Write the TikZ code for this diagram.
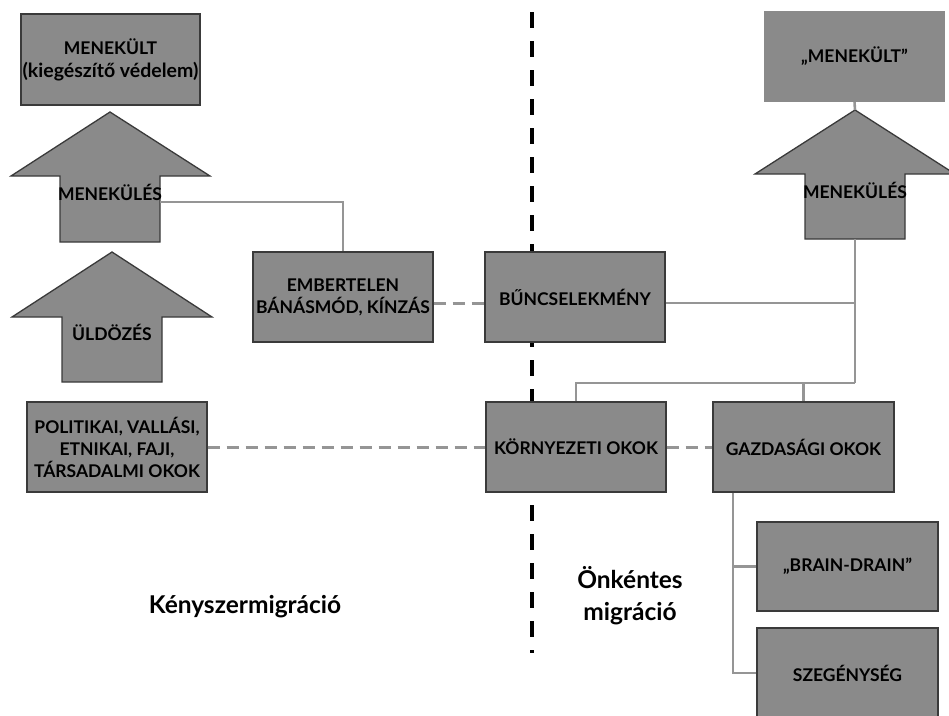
\documentclass[tikz,border=0pt]{standalone}
\usepackage{fontspec}
\setmainfont{Lato}
\definecolor{boxc}{HTML}{8A8A8A}
\definecolor{bordc}{HTML}{3A3A3A}
\definecolor{linec}{HTML}{959595}
\begin{document}
\begin{tikzpicture}[x=1pt,y=-1pt,
 box/.style={draw=bordc, fill=boxc, line width=1.3pt, inner sep=0pt, align=center, font=\bfseries\fontsize{17.5}{22}\selectfont},
 plainbox/.style={fill=boxc, inner sep=0pt, align=center, font=\bfseries\fontsize{17.5}{22}\selectfont},
 arrowtxt/.style={inner sep=0pt, font=\bfseries\fontsize{17.5}{22}\selectfont},
 bigarrow/.style={draw=bordc, fill=boxc, line width=1.3pt},
 link/.style={draw=linec, line width=2.6pt},
 dlink/.style={draw=linec, line width=3pt, dash pattern=on 12pt off 7pt},
 divider/.style={draw=black, line width=4pt, dash pattern=on 16pt off 13pt},
 region/.style={inner sep=0pt, align=center, font=\bfseries\fontsize{24.5}{32}\selectfont}]
\useasboundingbox (0,0) rectangle (949,715);
\begin{scope}
\clip (0,0) rectangle (949,715);
% divider
\coordinate (dtop) at (532,12);
\coordinate (dbot) at (532,653);
\draw[divider] (dtop) -- (dbot);

% left arrows
\draw[bigarrow] (110,112) -- (210,176) -- (160,176) -- (160,242) -- (60,242) -- (60,176) -- (11,176) -- cycle;
\node[arrowtxt] (menL) at (110,192) {MENEKÜLÉS};
\coordinate (menLr) at (160,202);
\draw[bigarrow] (112,252) -- (212,317) -- (162,317) -- (162,382) -- (62,382) -- (62,317) -- (12,317) -- cycle;
\node[arrowtxt] (uld) at (112,332) {ÜLDÖZÉS};

% right arrow
\draw[bigarrow] (855,110) -- (955,174) -- (905,174) -- (905,239) -- (805,239) -- (805,174) -- (755,174) -- cycle;
\node[arrowtxt] (menR) at (855,190) {MENEKÜLÉS};
\coordinate (menRtip) at (855,110);
\coordinate (menRbot) at (855,239);
\coordinate (jB) at (855,303);
\coordinate (jR) at (855,383);

% boxes
\node[box, minimum width=179pt, minimum height=91pt] (mkL) at (110.5,59.5) {MENEKÜLT\\[1pt]{\fontsize{19.5}{22}\selectfont(kiegészítő védelem)}};
\node[box, minimum width=180pt, minimum height=90pt] (emb) at (343,297) {EMBERTELEN\\BÁNÁSMÓD, KÍNZÁS};
\node[box, minimum width=180pt, minimum height=90pt] (bun) at (575,297) {BŰNCSELEKMÉNY};
\node[plainbox, minimum width=181pt, minimum height=91pt] (mkR) at (854.5,56.5) {„MENEKÜLT”};
\node[box, minimum width=180pt, minimum height=90pt] (kor) at (576,447) {KÖRNYEZETI OKOK};
\node[box, minimum width=181pt, minimum height=90pt] (gaz) at (803.5,447) {GAZDASÁGI OKOK};
\node[box, minimum width=180pt, minimum height=90pt] (pol) at (117,447) {POLITIKAI, VALLÁSI,\\ETNIKAI, FAJI,\\TÁRSADALMI OKOK};
\node[box, minimum width=181pt, minimum height=89pt] (brain) at (847.5,566.5) {„BRAIN-DRAIN”};
\node[box, minimum width=181pt, minimum height=90pt] (szeg) at (847.5,673) {SZEGÉNYSÉG};

% connectors
\draw[link] (menLr) -| (emb.north);
\coordinate (embE) at ([yshift=-6pt]emb.east);
\coordinate (bunW) at ([yshift=-6pt]bun.west);
\coordinate (bunE) at ([yshift=-6pt]bun.east);
\draw[dlink] (embE) -- (bunW);
\draw[link] (mkR.south) -- (menRtip);
\draw[link] (menRbot) -- (jR);
\draw[link] (bunE) -- (jB);
\draw[link] (kor.north) |- (jR);
\draw[link] (gaz.north) -- (gaz.north |- jR);
\draw[dlink] (pol.east) -- (kor.west);
\draw[dlink] (kor.east) -- (gaz.west);
\coordinate (gzb) at ([xshift=-70.5pt]gaz.south);
\draw[link] (gzb) |- (szeg.west);
\draw[link] (gzb |- brain.west) -- (brain.west);

% region labels
\node[region] (kenysz) at (245,607) {Kényszermigráció};
\node[region] (onk) at (630,596) {Önkéntes\\migráció};
\end{scope}
\end{tikzpicture}
\end{document}
